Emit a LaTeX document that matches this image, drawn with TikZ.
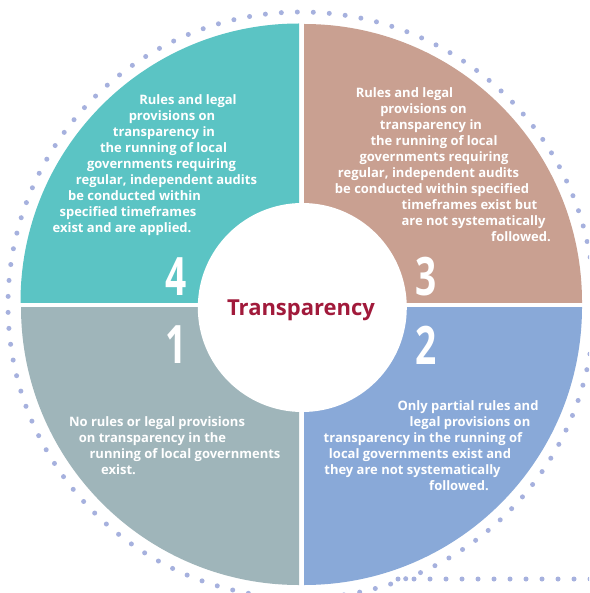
\documentclass[tikz,border=0pt]{standalone}
\usepackage{fontspec}
\usepackage{graphicx}
\setmainfont{Open Sans}[BoldFont={Open Sans Bold}]
\definecolor{qteal}{HTML}{5BC4C4}
\definecolor{qbrown}{HTML}{C9A091}
\definecolor{qgrey}{HTML}{9FB5BA}
\definecolor{qblue}{HTML}{89A9D8}
\definecolor{dotcol}{HTML}{A6B1DE}
\definecolor{titlered}{HTML}{A11A3B}
\begin{document}
\begin{tikzpicture}[x=1pt,y=-1pt,
  body/.style={anchor=base, text=white, font=\bfseries\fontsize{13}{16}\selectfont, inner sep=0pt},
  numlbl/.style={anchor=base, text=white, font=\bfseries\fontsize{53}{53}\selectfont, inner sep=0pt},
  dotline/.style={draw=dotcol, line width=5pt, line cap=round, dash pattern=on 0pt off 16pt},
  title/.style={anchor=base, text=titlered, font=\bfseries\fontsize{22}{22}\selectfont, inner sep=0pt}]
\useasboundingbox (0,0) rectangle (589,593);
\fill[white] (0,0) rectangle (589,593);
% dotted ring and line
\begin{scope}
  \clip (0,0) rectangle (589,593);
  \coordinate (ringc) at (301,305);
  \draw[dotline] (ringc) circle (293pt);
  \coordinate (hstart) at (398,579);
  \coordinate (hend) at (600,579);
  \draw[dotline] (hstart) -- (hend);
\end{scope}
% quadrants
\begin{scope}
  \clip (0,0) rectangle (299,302);
  \fill[qteal] (299,302) circle (278.5pt);
\end{scope}
\begin{scope}
  \clip (304,0) rectangle (589,302);
  \fill[qbrown] (304,302) circle (278pt);
\end{scope}
\begin{scope}
  \clip (0,307) rectangle (299,593);
  \fill[qgrey] (299,307) circle (278pt);
\end{scope}
\begin{scope}
  \clip (304,307) rectangle (589,593);
  \fill[qblue] (304,307) circle (278pt);
\end{scope}
% inner circle
\fill[white] (302.3,307.5) circle (104.5pt);
\node[title] (ttl) at (301,315) {Transparency};
% numbers
\node[numlbl] (n4) at (176.5,295) {\scalebox{0.7}[1]{4}};
\node[numlbl] (n3) at (426,295) {\scalebox{0.7}[1]{3}};
\node[numlbl] (n1) at (176.5,363) {\scalebox{0.7}[1]{1}};
\node[numlbl] (n2) at (426.5,364) {\scalebox{0.7}[1]{2}};
% quadrant 4 text
\node[body] (a1) at (188,104.5) {Rules and legal};
\node[body] (a2) at (172,120.5) {provisions on};
\node[body] (a3) at (164,136.5) {transparency in};
\node[body] (a4) at (163.5,152.5) {the running of local};
\node[body] (a5) at (161.5,168.5) {governments requiring};
\node[body] (a6) at (166.5,184.5) {regular, independent audits};
\node[body] (a7) at (134.5,200.5) {be conducted within};
\node[body] (a8) at (128,216.5) {specified timeframes};
\node[body] (a9) at (122,232.5) {exist and are applied.};
% quadrant 3 text
\node[body] (b1) at (404.5,97.5) {Rules and legal};
\node[body] (b2) at (423.5,113.5) {provisions on};
\node[body] (b3) at (431,129.5) {transparency in};
\node[body] (b4) at (434,145.5) {the running of local};
\node[body] (b5) at (434,161.5) {governments requiring};
\node[body] (b6) at (428.5,177.5) {regular, independent audits};
\node[body] (b7) at (432,193.5) {be conducted within specified};
\node[body] (b8) at (469.5,209.5) {timeframes exist but};
\node[body] (b9) at (473.5,225.5) {are not systematically};
\node[body] (b10) at (521,241.5) {followed.};
% quadrant 1 text
\node[body] (c1) at (157,426.5) {No rules or legal provisions};
\node[body] (c2) at (152.5,442.5) {on transparency in the};
\node[body] (c3) at (185,458.5) {running of local governments};
\node[body] (c4) at (118.5,474.5) {exist.};
% quadrant 2 text
\node[body] (d1) at (468,410.5) {Only partial rules and};
\node[body] (d2) at (470,426.5) {legal provisions on};
\node[body] (d3) at (423,442.5) {transparency in the running of};
\node[body] (d4) at (420,458.5) {local governments exist and};
\node[body] (d5) at (412.5,474.5) {they are not systematically};
\node[body] (d6) at (459,490.5) {followed.};
\end{tikzpicture}
\end{document}
